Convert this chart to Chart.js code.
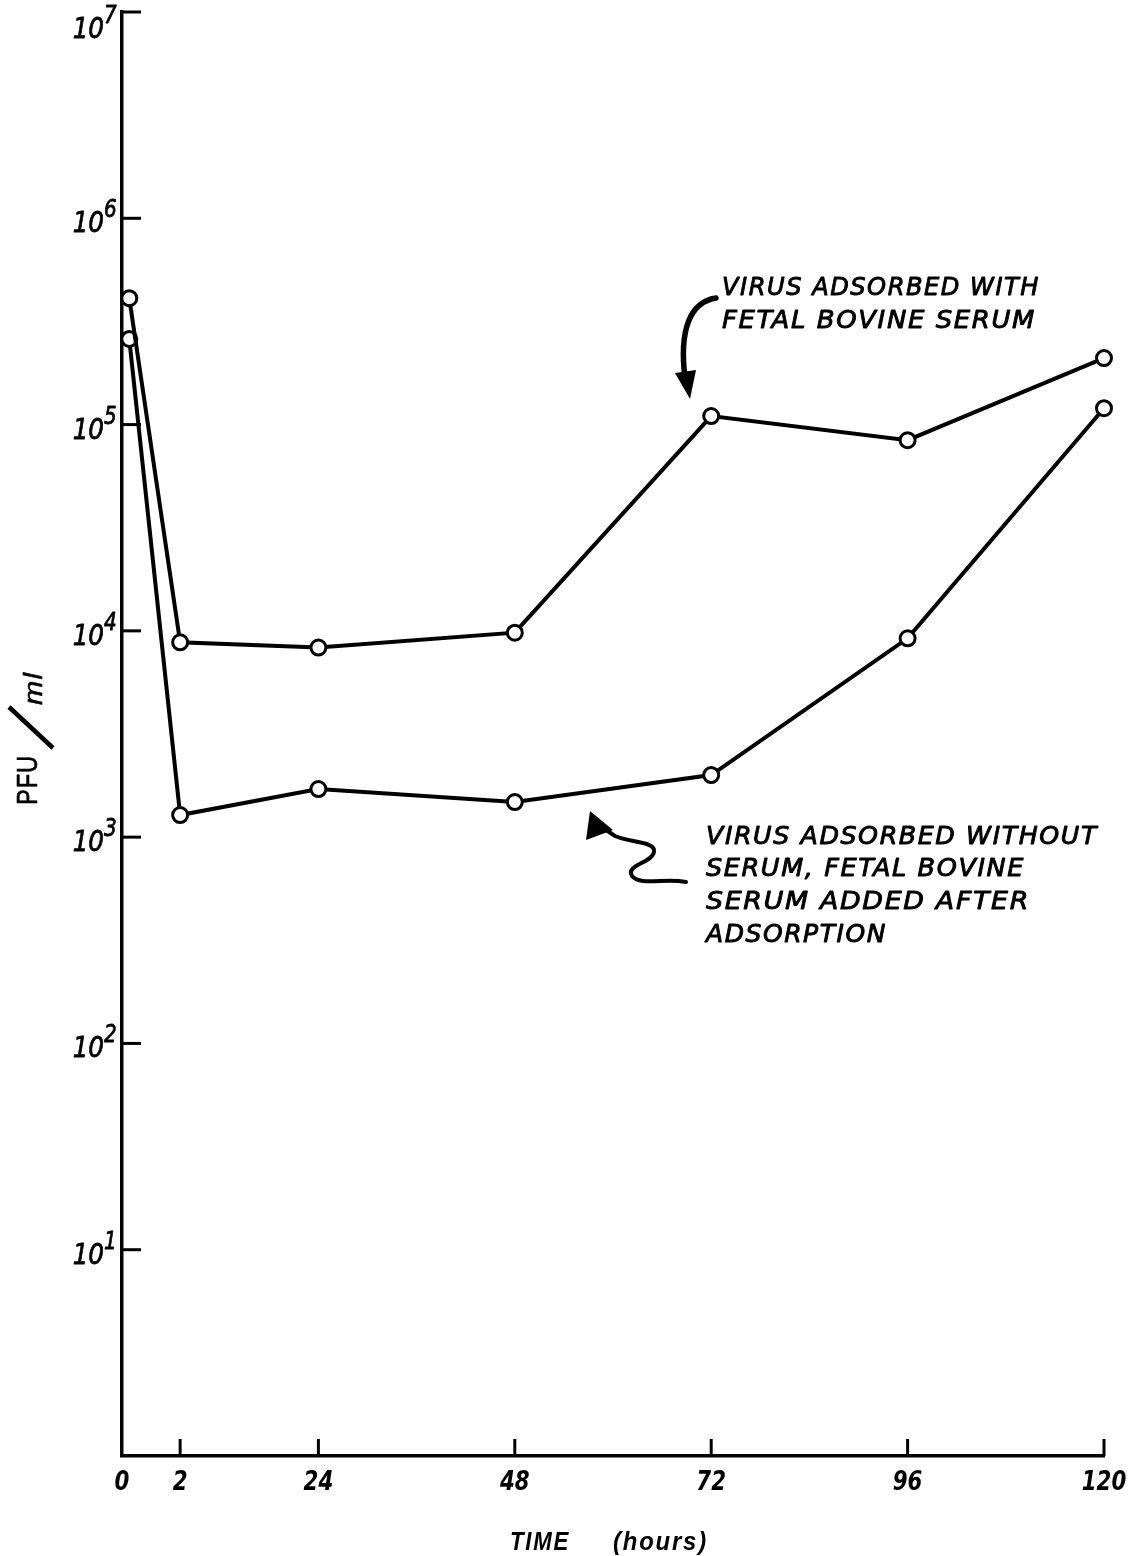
<!DOCTYPE html>
<html>
<head>
<meta charset="utf-8">
<script src="https://cdn.jsdelivr.net/npm/chart.js@4.4.1/dist/chart.umd.min.js"></script>
<style>
  html, body { margin: 0; padding: 0; background: #fff; }
</style>
</head>
<body>
<canvas id="pfu-graph" width="1142" height="1556"></canvas>
<script>
// sample times (hours) - the t=0 circles sit a little right of the axis on the original
var sampleHours = [0.25, 2, 24, 48, 72, 96, 120];
// PFU/ml
var withSerum  = [4.1e5, 8.8e3, 8.3e3, 9.8e3, 1.1e5, 8.4e4, 2.1e5];
var serumAfter = [2.6e5, 1.28e3, 1.71e3, 1.48e3, 2.0e3, 9.2e3, 1.2e5];
var hourTicks = [0, 2, 24, 48, 72, 96, 120];
var decadeTicks = [1e1, 1e2, 1e3, 1e4, 1e5, 1e6, 1e7];

// time axis on the paper is stretched between 0 and 2 hours, then 24h per step
class BrokenTimeScale extends Chart.LinearScale {
    toUnits(h) {
        if (h <= 2) return h * 0.148;
        if (h <= 24) return 0.296 + (h - 2) * 0.704 / 22;
        return h / 24;
    }
    buildTicks() {
        return hourTicks.map(function(v){ return {value: v}; });
    }
    getPixelForValue(v) {
        var lo = this.toUnits(this.min), hi = this.toUnits(this.max);
        return this.getPixelForDecimal((this.toUnits(v) - lo) / (hi - lo));
    }
}
BrokenTimeScale.id = 'brokentime';
BrokenTimeScale.defaults = Chart.LinearScale.defaults;
Chart.register(BrokenTimeScale);

function pts(vals) {
    return sampleHours.map(function(h, i){ return {x: h, y: vals[i]}; });
}

// text squeezed/stretched horizontally, hand lettering is narrower than the fonts
// heavy > 0 adds an outline so the pen strokes look thicker
function squeezed(ctx, text, x, y, sx, align, heavy) {
    var w = ctx.measureText(text).width * sx;
    var x0 = align === 'center' ? x - w / 2 : (align === 'right' ? x - w : x);
    ctx.save();
    ctx.textAlign = 'left';
    ctx.translate(x0, y);
    ctx.scale(sx, 1);
    ctx.fillText(text, 0, 0);
    if (heavy) {
        ctx.lineWidth = heavy;
        ctx.lineJoin = 'round';
        ctx.strokeText(text, 0, 0);
    }
    ctx.restore();
}
function fitted(ctx, text, x, y, width, heavy) {
    squeezed(ctx, text, x, y, width / ctx.measureText(text).width, 'left', heavy);
}

var paperDecor = {
    id: 'paperDecor',
    afterDraw: function(chart) {
        var ctx = chart.ctx;
        var xs = chart.scales.x, ys = chart.scales.y;
        var area = chart.chartArea;
        ctx.save();
        ctx.strokeStyle = '#000';
        ctx.fillStyle = '#000';
        ctx.textBaseline = 'alphabetic';
        ctx.lineCap = 'butt';

        // inward tick marks
        ctx.lineWidth = 3;
        decadeTicks.forEach(function(v){
            var y = ys.getPixelForValue(v);
            ctx.beginPath(); ctx.moveTo(area.left, y); ctx.lineTo(area.left + 19, y); ctx.stroke();
        });
        hourTicks.slice(1).forEach(function(h){
            var x = xs.getPixelForValue(h);
            ctx.beginPath(); ctx.moveTo(x, area.bottom); ctx.lineTo(x, area.bottom - 17); ctx.stroke();
        });

        // y tick labels 10^n
        decadeTicks.forEach(function(v){
            var y = Math.max(ys.getPixelForValue(v), 24);
            ctx.font = 'italic 29px "DejaVu Sans"';
            squeezed(ctx, '10', 104, y + 14, 0.85, 'right', 0.8);
            ctx.font = 'italic 25px "DejaVu Sans"';
            squeezed(ctx, String(Math.round(Math.log10(v))), 104, y - 1, 0.8, 'left', 0.8);
        });

        // x tick labels
        ctx.font = 'bold italic 26px "DejaVu Sans"';
        hourTicks.forEach(function(h){
            squeezed(ctx, String(h), xs.getPixelForValue(h), area.bottom + 34, 0.82, 'center');
        });

        // x title
        ctx.font = 'bold italic 26px "Liberation Sans"';
        ctx.letterSpacing = '2px';
        fitted(ctx, 'TIME', 510, 1550, 60);
        fitted(ctx, '(hours)', 613, 1550, 95);

        // y title PFU/ml
        ctx.letterSpacing = '1px';
        ctx.font = '29px "Liberation Sans"';
        ctx.save(); ctx.translate(37, 805); ctx.rotate(-Math.PI / 2); fitted(ctx, 'PFU', 0, 0, 50, 0.6); ctx.restore();
        ctx.lineWidth = 4.5;
        ctx.beginPath(); ctx.moveTo(53, 748); ctx.lineTo(9, 707); ctx.stroke();
        ctx.font = 'italic 25px "Liberation Sans"';
        ctx.save(); ctx.translate(42, 705); ctx.rotate(-Math.PI / 2); fitted(ctx, 'ml', 0, 0, 33, 0.6); ctx.restore();

        // notes
        ctx.font = 'italic 24px "DejaVu Sans"';
        ctx.letterSpacing = '1.5px';
        fitted(ctx, 'VIRUS ADSORBED WITH', 722, 295, 318, 0.9);
        fitted(ctx, 'FETAL BOVINE SERUM', 722, 328, 314, 0.9);
        fitted(ctx, 'VIRUS ADSORBED WITHOUT', 706, 844, 392, 0.9);
        fitted(ctx, 'SERUM, FETAL BOVINE', 706, 876, 319, 0.9);
        fitted(ctx, 'SERUM ADDED AFTER', 706, 909, 324, 0.9);
        fitted(ctx, 'ADSORPTION', 706, 942, 181, 0.9);
        ctx.letterSpacing = '0px';

        // curved arrow to upper curve
        ctx.lineWidth = 5.5;
        ctx.lineCap = 'round';
        ctx.beginPath();
        ctx.moveTo(716, 298);
        ctx.bezierCurveTo(690, 302, 679, 330, 685, 378);
        ctx.stroke();
        ctx.beginPath();
        ctx.moveTo(675, 373); ctx.lineTo(696, 370); ctx.lineTo(690, 399); ctx.closePath(); ctx.fill();

        // squiggly arrow to lower curve
        ctx.lineWidth = 4;
        ctx.beginPath();
        ctx.moveTo(686, 882);
        ctx.bezierCurveTo(664, 878, 640, 886, 632, 876);
        ctx.bezierCurveTo(625, 865, 652, 863, 654, 852);
        ctx.bezierCurveTo(656, 841, 630, 843, 615, 836);
        ctx.lineTo(603, 828);
        ctx.stroke();
        ctx.beginPath();
        ctx.moveTo(590, 811); ctx.lineTo(586, 840); ctx.lineTo(613, 830); ctx.closePath(); ctx.fill();

        ctx.restore();
    }
};

var ctx = document.getElementById('pfu-graph');
var pfuGraph = new Chart(ctx, {
    type: 'line',
    data: {
        datasets: [
            {
                label: 'Virus adsorbed with fetal bovine serum',
                data: pts(withSerum)
            },
            {
                label: 'Virus adsorbed without serum, fetal bovine serum added after adsorption',
                data: pts(serumAfter)
            }
        ]
    },
    options: {
        responsive: false,
        animation: false,
        events: [],
        devicePixelRatio: 1,
        layout: { padding: { left: 122, top: 12, right: 38, bottom: 100 } },
        elements: {
            line: { borderColor: '#000', borderWidth: 4, tension: 0, fill: false },
            point: { radius: 7.5, borderWidth: 3, borderColor: '#000', backgroundColor: '#fff', pointStyle: 'circle' }
        },
        datasets: { line: { clip: false } },
        plugins: { legend: { display: false }, tooltip: { enabled: false } },
        scales: {
            x: {
                type: 'brokentime',
                min: 0,
                max: 120,
                grid: { display: false, drawTicks: false },
                ticks: { display: false },
                border: { display: true, color: '#000', width: 3.5 }
            },
            y: {
                type: 'logarithmic',
                min: 1,
                max: 1e7,
                grid: { display: false, drawTicks: false },
                ticks: { display: false },
                border: { display: true, color: '#000', width: 3.5 }
            }
        }
    },
    plugins: [paperDecor]
});
</script>
</body>
</html>
